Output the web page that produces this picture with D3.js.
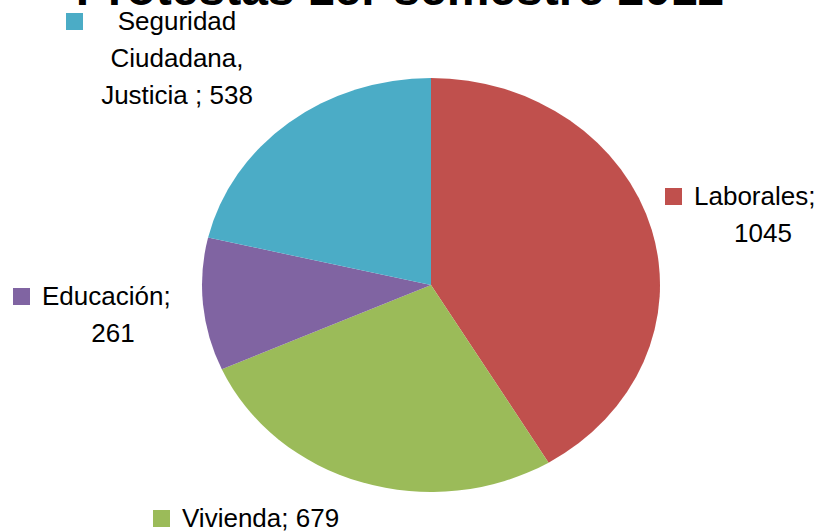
<!DOCTYPE html>
<html>
<head>
<meta charset="utf-8">
<script src="https://cdn.jsdelivr.net/npm/d3@7"></script>
<style>
  html, body { margin: 0; padding: 0; background: #fff; }
  svg { display: block; font-family: "Liberation Sans", Arial, sans-serif; }
</style>
</head>
<body>
<div id="chart"></div>
<script>
const categories = ["Laborales", "Vivienda", "Educación", "Seguridad Ciudadana, Justicia "];
const values = [1045, 679, 261, 538];
const colors = ["#C0504D", "#9BBB59", "#8064A2", "#4BACC6"];
const title = "Protestas 1er semestre 2012";

// label layout: lines of text, legend square on first line
const labelLines = [
  ["Laborales;", "1045"],
  ["Vivienda; 679"],
  ["Educación;", "261"],
  ["Seguridad", "Ciudadana,", "Justicia ; 538"]
];
const labelPos = [
  { x: 665, y: 205, cx: 763 },
  { x: 153, y: 527, cx: 0 },
  { x: 13, y: 305, cx: 113 },
  { x: 66, y: 30, cx: 177 }
];

const width = 825, height = 532;
const cx = 431, cy = 285, rx = 229, ry = 207;

const svg = d3.select("#chart").append("svg")
  .attr("width", width)
  .attr("height", height);

svg.append("text")
  .attr("x", 400)
  .attr("y", 5)
  .attr("text-anchor", "middle")
  .attr("font-weight", "bold")
  .attr("font-size", 48)
  .text(title);

const pie = d3.pie().sort(null).value(d => d);
const arc = d3.arc().innerRadius(0).outerRadius(rx);

svg.append("g")
  .attr("transform", `translate(${cx},${cy}) scale(1,${ry / rx})`)
  .selectAll("path")
  .data(pie(values))
  .join("path")
  .attr("d", arc)
  .attr("fill", (d, i) => colors[i]);

const labels = svg.append("g")
  .selectAll("g")
  .data(labelLines)
  .join("g");

labels.append("rect")
  .attr("x", (d, i) => labelPos[i].x)
  .attr("y", (d, i) => labelPos[i].y - 17)
  .attr("width", 17)
  .attr("height", 17)
  .attr("fill", (d, i) => colors[i]);

labels.each(function(lines, i) {
  const p = labelPos[i];
  const g = d3.select(this);
  lines.forEach((t, j) => {
    const first = j === 0;
    g.append("text")
      .attr("x", first ? (i === 3 ? p.cx : p.x + 29) : p.cx)
      .attr("y", p.y + j * 37)
      .attr("text-anchor", first && i !== 3 ? "start" : "middle")
      .attr("font-size", 26)
      .attr("fill", "#000")
      .text(t);
  });
});
</script>
</body>
</html>
